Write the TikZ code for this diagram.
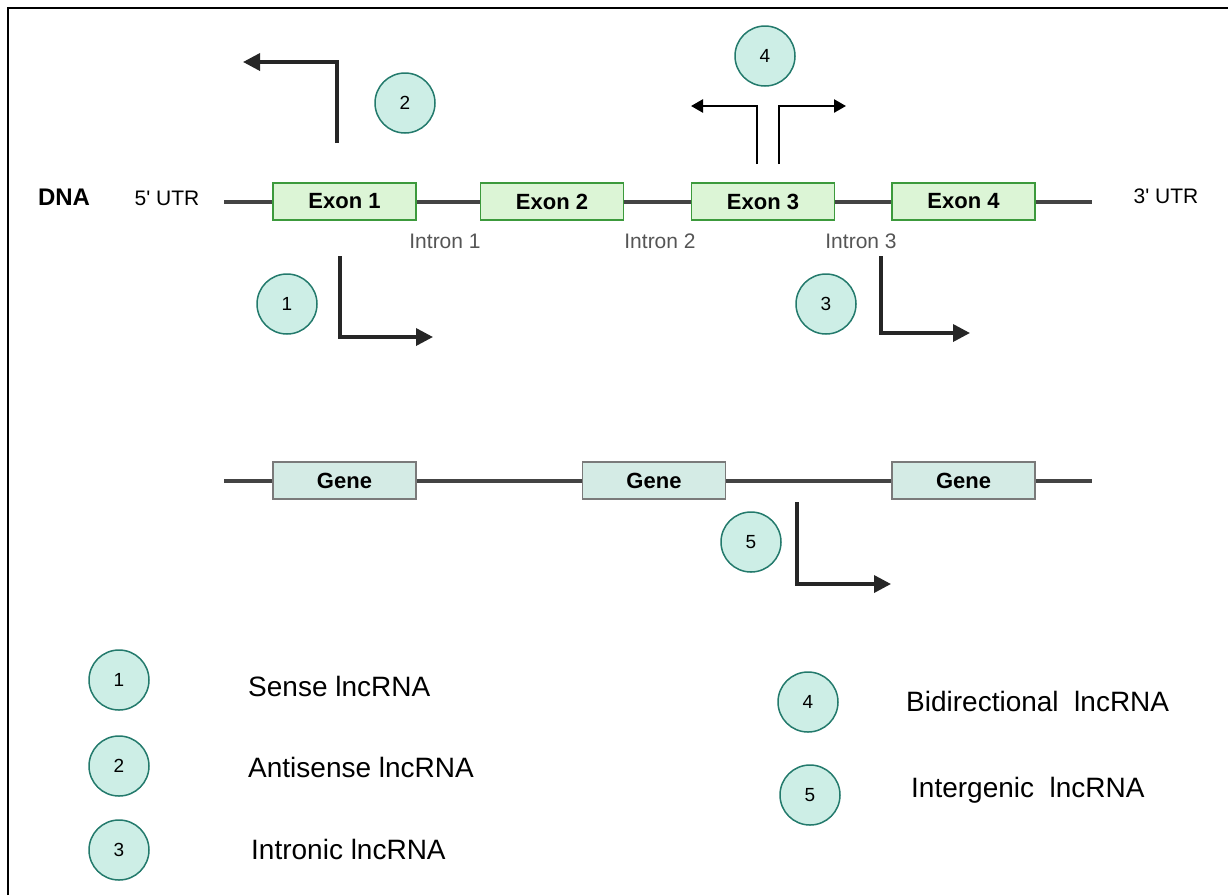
\documentclass[tikz,border=0pt]{standalone}
\usepackage{fontspec}
\setmainfont{Liberation Sans}
\usetikzlibrary{arrows.meta}
\usetikzlibrary{positioning}

\definecolor{exonfill}{HTML}{DCF5D6}
\definecolor{exonline}{HTML}{3C9A3C}
\definecolor{genefill}{HTML}{D4EBE5}
\definecolor{geneline}{HTML}{7A7A7A}
\definecolor{numfill}{HTML}{CDEEE6}
\definecolor{numline}{HTML}{237A6C}
\definecolor{strand}{HTML}{444444}
\definecolor{introntext}{HTML}{555555}
\definecolor{tssline}{HTML}{262626}

\tikzset{
  exonbox/.style={draw=exonline,fill=exonfill,line width=1.5pt,minimum width=143pt,minimum height=37pt,inner sep=0pt,font=\fontsize{22}{24}\selectfont\bfseries},
  genebox/.style={draw=geneline,fill=genefill,line width=1.5pt,minimum width=143pt,minimum height=37pt,inner sep=0pt,font=\fontsize{22}{24}\selectfont\bfseries},
  numcirc/.style={circle,draw=numline,fill=numfill,line width=1.5pt,minimum size=60pt,inner sep=0pt,font=\fontsize{19}{21}\selectfont},
  strandline/.style={strand,line width=4pt},
  tss/.style={tssline,line width=3.5pt,-{Triangle[length=17pt,width=17pt]}},
  tssthin/.style={black,line width=2.5pt,-{Triangle[length=12pt,width=13pt]}},
  intronlbl/.style={text=introntext,font=\fontsize{21}{23}\selectfont},
  legendlbl/.style={anchor=west,inner sep=0pt,font=\fontsize{28}{30}\selectfont}
}

\begin{document}
\begin{tikzpicture}[x=1pt,y=-1pt]
\useasboundingbox (0,0) rectangle (1228,895);
\draw[line width=2pt] (8,895) -- (8,8) -- (1228,8);

% DNA strand with exons
\coordinate (dnaL) at (224,202);
\coordinate (dnaR) at (1092,202);
\draw[strandline] (dnaL) -- (dnaR);
\node[exonbox] (ex1) at (344.5,201.5) {Exon 1};
\node[exonbox] (ex2) at (552,201.5) {Exon 2};
\node[exonbox] (ex3) at (763,201.5) {Exon 3};
\node[exonbox] (ex4) at (963.5,201.5) {Exon 4};

\node[font=\fontsize{24}{26}\selectfont\bfseries] (dna) at (64,197) {DNA};
\node[font=\fontsize{21}{23}\selectfont] (utr5) at (167,198) {5\textquotesingle\ UTR};
\node[font=\fontsize{21}{23}\selectfont] (utr3) at (1166,196) {3\textquotesingle\ UTR};
\node[intronlbl] (in1) at (445,241) {Intron 1};
\node[intronlbl] (in2) at (660,241) {Intron 2};
\node[intronlbl] (in3) at (861,241) {Intron 3};

% transcription starts
\coordinate (s1) at (340,256);  \coordinate (e1) at (433,337);
\coordinate (s2) at (337,143);  \coordinate (e2) at (243,62);
\coordinate (s3) at (881,256);  \coordinate (e3) at (970,333);
\coordinate (s4a) at (757,164); \coordinate (e4a) at (691,106);
\coordinate (s4b) at (779,164); \coordinate (e4b) at (846,106);
\draw[tss] (s1) |- (e1);
\draw[tss] (s2) |- (e2);
\draw[tss] (s3) |- (e3);
\draw[tssthin] (s4a) |- (e4a);
\draw[tssthin] (s4b) |- (e4b);

\node[numcirc] (c1) at (287,304) {1};
\node[numcirc] (c2) at (405,103) {2};
\node[numcirc] (c3) at (826,304) {3};
\node[numcirc] (c4) at (765,56) {4};

% intergenic strand
\coordinate (genL) at (224,481);
\coordinate (genR) at (1092,481);
\draw[strandline] (genL) -- (genR);
\node[genebox] (g1) at (344.5,480.5) {Gene};
\node[genebox] (g2) at (654,480.5) {Gene};
\node[genebox] (g3) at (963.5,480.5) {Gene};

\coordinate (s5) at (797,502); \coordinate (e5) at (891,584);
\draw[tss] (s5) |- (e5);
\node[numcirc] (c5) at (751,542) {5};

% legend
\node[numcirc] (k1) at (119,680) {1};
\node[numcirc] (k2) at (119,766) {2};
\node[numcirc] (k3) at (119,850) {3};
\node[numcirc] (k4) at (808,702) {4};
\node[numcirc] (k5) at (810,795) {5};
\node[legendlbl] (t1) at (248,686) {Sense lncRNA};
\node[legendlbl] (t2) at (248,767) {Antisense lncRNA};
\node[legendlbl] (t3) at (251,849) {Intronic lncRNA};
\node[legendlbl] (t4) at (906,701) {Bidirectional\ \ lncRNA};
\node[legendlbl] (t5) at (911,790) {Intergenic\ \ lncRNA};

\end{tikzpicture}
\end{document}
